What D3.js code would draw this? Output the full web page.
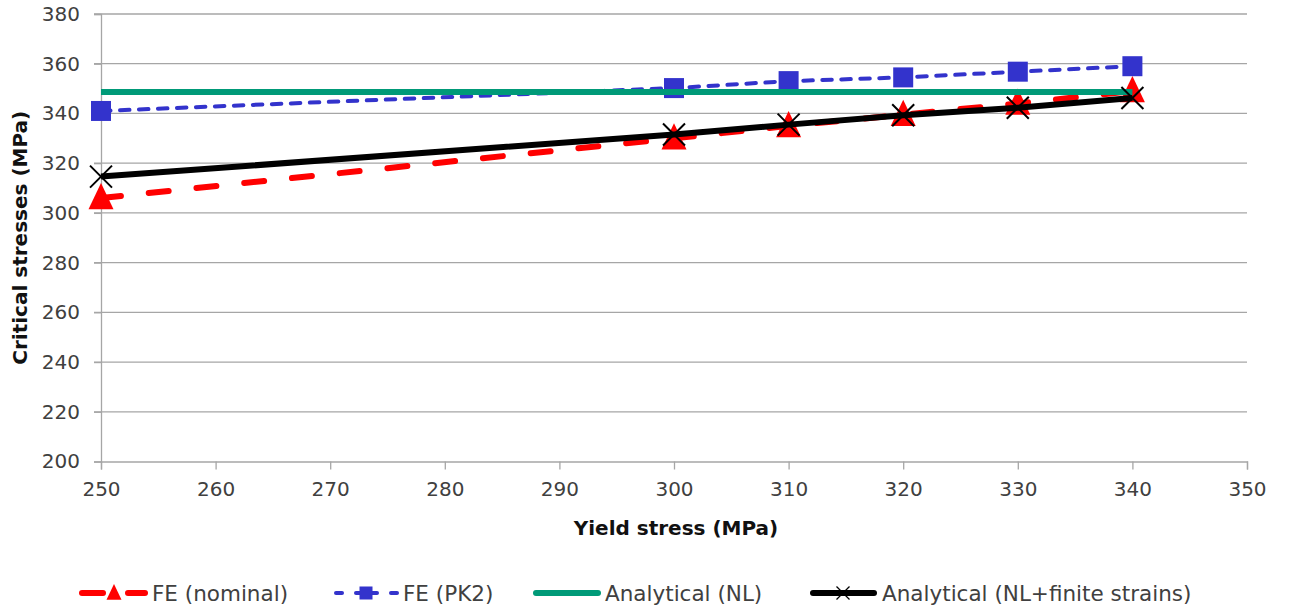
<!DOCTYPE html>
<html><head><meta charset="utf-8">
<script src="https://cdn.jsdelivr.net/npm/d3@7"></script>
<style>body{margin:0;background:#fff;} svg{display:block;}</style>
</head><body>
<svg id="c" width="1298" height="609"></svg>
<script>
const xVals = [250, 300, 310, 320, 330, 340];
const feNominal = [306, 330, 335, 339.5, 344, 349];
const fePK2 = [341, 350.2, 353, 354.5, 356.8, 359];
const analyticalNL = [348.6, 348.6, 348.6, 348.6, 348.6, 348.6];
const analyticalNLFinite = [314.6, 331.5, 335.5, 339.3, 342.3, 346.2];
const xTicks = [250, 260, 270, 280, 290, 300, 310, 320, 330, 340, 350];
const yTicks = [200, 220, 240, 260, 280, 300, 320, 340, 360, 380];
const seriesNames = ["FE (nominal)", "FE (PK2)", "Analytical (NL)", "Analytical (NL+finite strains)"];

const font = "'DejaVu Sans',sans-serif";
const svg = d3.select("#c");
const L = 101, R = 1247, T = 14, B = 461.5;
const x = d3.scaleLinear().domain([250, 350]).range([L, R]);
const y = d3.scaleLinear().domain([200, 380]).range([B, T]);

// grid
svg.append("g").selectAll("line").data(yTicks.filter(d => d > 200)).join("line")
  .attr("x1", L - 7).attr("x2", R).attr("y1", d => y(d)).attr("y2", d => y(d))
  .attr("stroke", "#a6a6a6").attr("stroke-width", 1.3);

// y axis
const ya = svg.append("g").attr("transform", `translate(${L},0)`)
  .call(d3.axisLeft(y).tickValues(yTicks).tickSize(7).tickPadding(14));
ya.select(".domain").attr("stroke", "#a6a6a6").attr("stroke-width", 1.3);
ya.selectAll(".tick line").attr("stroke", "#a6a6a6").attr("stroke-width", 1.3);
ya.selectAll("text").attr("font-family", font).attr("font-size", 20).attr("fill", "#404040");

// x axis
const xa = svg.append("g").attr("transform", `translate(0,${B})`)
  .call(d3.axisBottom(x).tickValues(xTicks).tickSize(8).tickPadding(12));
xa.select(".domain").attr("stroke", "#a6a6a6").attr("stroke-width", 1.3);
xa.selectAll(".tick line").attr("stroke", "#a6a6a6").attr("stroke-width", 1.3);
xa.selectAll("text").attr("font-family", font).attr("font-size", 20).attr("fill", "#404040");

// titles
svg.append("text").attr("x", 676).attr("y", 535).attr("text-anchor", "middle")
  .attr("font-family", font).attr("font-weight", "bold").attr("font-size", 20).attr("fill", "#111")
  .text("Yield stress (MPa)");
svg.append("text").attr("transform", `translate(27,${(T + B) / 2}) rotate(-90)`).attr("text-anchor", "middle")
  .attr("font-family", font).attr("font-weight", "bold").attr("font-size", 20).attr("fill", "#111")
  .text("Critical stresses (MPa)");

const line = d3.line().x(d => x(d[0])).y(d => y(d[1]));
const red = "#ff0000", blue = "#3333cc", green = "#009a78", black = "#000000";
const zip = vals => xVals.map((v, i) => [v, vals[i]]);

function tri(g, cx, cy, s) {
  g.append("path").attr("d", `M${cx},${cy - s * 0.6}L${cx + s / 2},${cy + s * 0.45}L${cx - s / 2},${cy + s * 0.45}Z`).attr("fill", red);
}
function sq(g, cx, cy, s) {
  g.append("rect").attr("x", cx - s / 2).attr("y", cy - s / 2).attr("width", s).attr("height", s).attr("fill", blue);
}
function cross(g, cx, cy, s, w) {
  g.append("path").attr("d", `M${cx - s / 2},${cy - s / 2}L${cx + s / 2},${cy + s / 2}M${cx + s / 2},${cy - s / 2}L${cx - s / 2},${cy + s / 2}`)
    .attr("stroke", black).attr("stroke-width", w).attr("fill", "none");
}

const plot = svg.append("g");
// FE nominal
plot.append("path").attr("d", line(zip(feNominal))).attr("fill", "none").attr("stroke", red)
  .attr("stroke-width", 6).attr("stroke-dasharray", "20,28").attr("stroke-linecap", "round");
zip(feNominal).forEach(d => tri(plot, x(d[0]), y(d[1]), 25));
// FE PK2
plot.append("path").attr("d", line(zip(fePK2))).attr("fill", "none").attr("stroke", blue)
  .attr("stroke-width", 4).attr("stroke-dasharray", "9.5,9.5").attr("stroke-linecap", "round");
zip(fePK2).forEach(d => sq(plot, x(d[0]), y(d[1]), 20));
// Analytical NL
plot.append("path").attr("d", line(zip(analyticalNL))).attr("fill", "none").attr("stroke", green)
  .attr("stroke-width", 6);
// Analytical NL + finite
plot.append("path").attr("d", line(zip(analyticalNLFinite))).attr("fill", "none").attr("stroke", black)
  .attr("stroke-width", 6);
zip(analyticalNLFinite).forEach(d => cross(plot, x(d[0]), y(d[1]), 22, 2));

// legend
const ly = 593;
const leg = svg.append("g");
const items = [
  { segs: [[82, 103], [128, 145]], tx: 152, c: red, w: 6, mk: "tri", mx: 114 },
  { segs: [[336, 342], [356, 377], [391, 397]], tx: 403, c: blue, w: 4, mk: "sq", mx: 366 },
  { segs: [[536, 598]], tx: 605, c: green, w: 6, mk: null },
  { segs: [[813, 874]], tx: 882, c: black, w: 6, mk: "x", mx: 843 }
];
items.forEach((it, i) => {
  it.segs.forEach(s => leg.append("line").attr("x1", s[0]).attr("x2", s[1]).attr("y1", ly).attr("y2", ly)
    .attr("stroke", it.c).attr("stroke-width", it.w).attr("stroke-linecap", "round"));
  if (it.mk === "tri") tri(leg, it.mx, ly, 15);
  if (it.mk === "sq") sq(leg, it.mx, ly, 13);
  if (it.mk === "x") cross(leg, it.mx, ly, 13, 1.3);
  leg.append("text").attr("x", it.tx).attr("y", ly).attr("dy", "0.35em")
    .attr("font-family", font).attr("font-size", 21.5).attr("fill", "#404040").text(seriesNames[i]);
});
</script>
</body></html>
